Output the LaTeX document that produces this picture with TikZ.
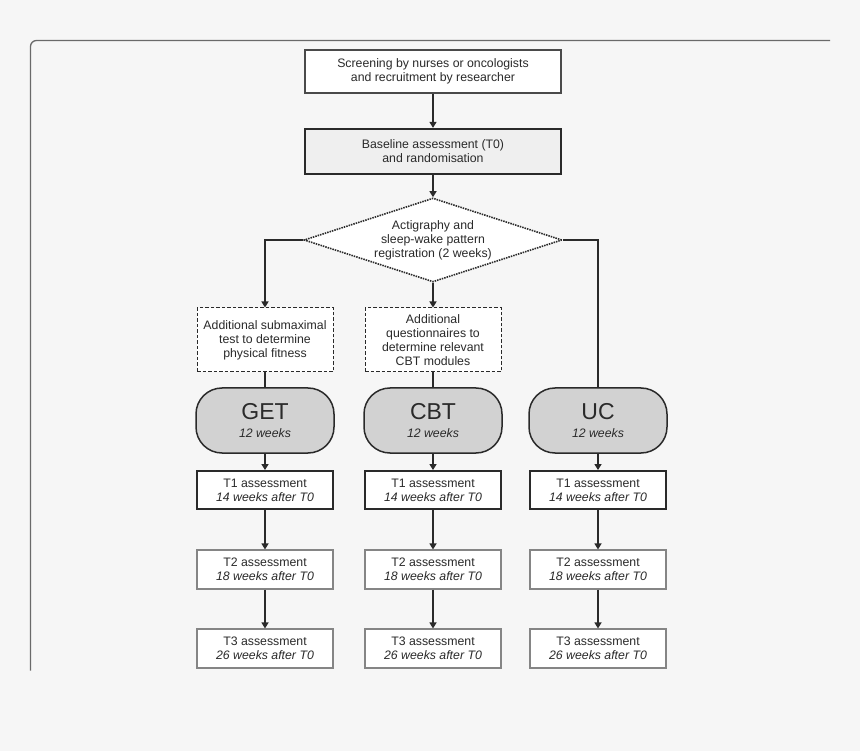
\documentclass[tikz,border=0pt]{standalone}
\usepackage{fontspec}
\setmainfont{Liberation Sans}
\usetikzlibrary{shapes.geometric,arrows.meta}
\definecolor{bg}{HTML}{F6F6F6}
\definecolor{ink}{HTML}{2A2A2A}
\definecolor{framecol}{HTML}{6A6A6A}
\definecolor{lightline}{HTML}{858585}
\definecolor{basefill}{HTML}{EFEFEF}
\definecolor{roundfill}{HTML}{D2D2D2}
\newcommand{\fsm}{\fontsize{12.3}{14}\selectfont}
\newcommand{\fbig}{\fontsize{23}{25}\selectfont}
\tikzset{
  txt/.style={text=ink, align=center, inner sep=0pt, font=\fsm},
  topbox/.style={txt, draw=ink!85, line width=1.3pt, fill=white, minimum width=256pt, minimum height=43pt},
  basebox/.style={txt, draw=ink, line width=2.3pt, fill=basefill, minimum width=256pt, minimum height=45pt},
  diam/.style={txt, diamond, aspect=3.07, draw=ink, line width=1.6pt, dash pattern=on 1.5pt off 1pt, fill=white, minimum width=258pt, minimum height=84pt},
  dashbox/.style={txt, draw=ink, line width=1pt, dash pattern=on 3.5pt off 2pt, fill=white, minimum width=136pt, minimum height=64pt},
  armbox/.style={txt, draw=ink, line width=1.5pt, fill=roundfill, rounded corners=26pt, minimum width=138pt, minimum height=65pt},
  tonebox/.style={txt, draw=ink, line width=1.9pt, fill=white, minimum width=136pt, minimum height=38pt},
  tbox/.style={txt, draw=lightline, line width=1.1pt, fill=white, minimum width=136pt, minimum height=39pt},
  conn/.style={draw=ink, line width=1.3pt},
  arr/.style={conn, -{Triangle[length=6pt,width=7pt]}},
  framel/.style={draw=framecol, line width=1.3pt, rounded corners=6pt}
}
\begin{document}
\begin{tikzpicture}[x=1pt,y=-1pt]
\fill[bg] (0,0) rectangle (860,751);
\useasboundingbox (0,0) rectangle (860,751);
\draw[framel] (30.5,670.5) |- (830,40.5);

\node[topbox] (scr) at (433,71.5) {Screening by nurses or oncologists\\and recruitment by researcher};
\node[basebox] (base) at (433,151.5) {Baseline assessment (T0)\\and randomisation};
\node[diam] (act) at (433,240) {Actigraphy and\\sleep-wake pattern\\registration (2 weeks)};
\node[dashbox] (sub) at (265,340) {Additional submaximal\\test to determine\\physical fitness};
\node[dashbox] (que) at (433,340) {Additional\\questionnaires to\\determine relevant\\CBT modules};

\node[armbox] (get) at (265,420.5) {\fbig GET\\[4pt]\fsm\itshape 12 weeks};
\node[armbox] (cbt) at (433,420.5) {\fbig CBT\\[4pt]\fsm\itshape 12 weeks};
\node[armbox] (uc) at (598,420.5) {\fbig UC\\[4pt]\fsm\itshape 12 weeks};

\node[tonebox] (t1a) at (265,490) {T1 assessment\\\itshape 14 weeks after T0};
\node[tonebox] (t1b) at (433,490) {T1 assessment\\\itshape 14 weeks after T0};
\node[tonebox] (t1c) at (598,490) {T1 assessment\\\itshape 14 weeks after T0};

\node[tbox] (t2a) at (265,569.5) {T2 assessment\\\itshape 18 weeks after T0};
\node[tbox] (t2b) at (433,569.5) {T2 assessment\\\itshape 18 weeks after T0};
\node[tbox] (t2c) at (598,569.5) {T2 assessment\\\itshape 18 weeks after T0};

\node[tbox] (t3a) at (265,648.5) {T3 assessment\\\itshape 26 weeks after T0};
\node[tbox] (t3b) at (433,648.5) {T3 assessment\\\itshape 26 weeks after T0};
\node[tbox] (t3c) at (598,648.5) {T3 assessment\\\itshape 26 weeks after T0};

\draw[arr] (scr.south) -- (base.north);
\draw[arr] (base.south) -- (act.north);
\draw[arr] (act.west) -| (sub.north);
\draw[arr] (act.south) -- (que.north);
\draw[conn] (act.east) -| (uc.north);
\draw[conn] (sub.south) -- (get.north);
\draw[conn] (que.south) -- (cbt.north);

\foreach \c in {a,b,c}{
  \draw[arr] (t1\c.south) -- (t2\c.north);
  \draw[arr] (t2\c.south) -- (t3\c.north);
}
\draw[arr] (get.south) -- (t1a.north);
\draw[arr] (cbt.south) -- (t1b.north);
\draw[arr] (uc.south) -- (t1c.north);
\end{tikzpicture}
\end{document}
